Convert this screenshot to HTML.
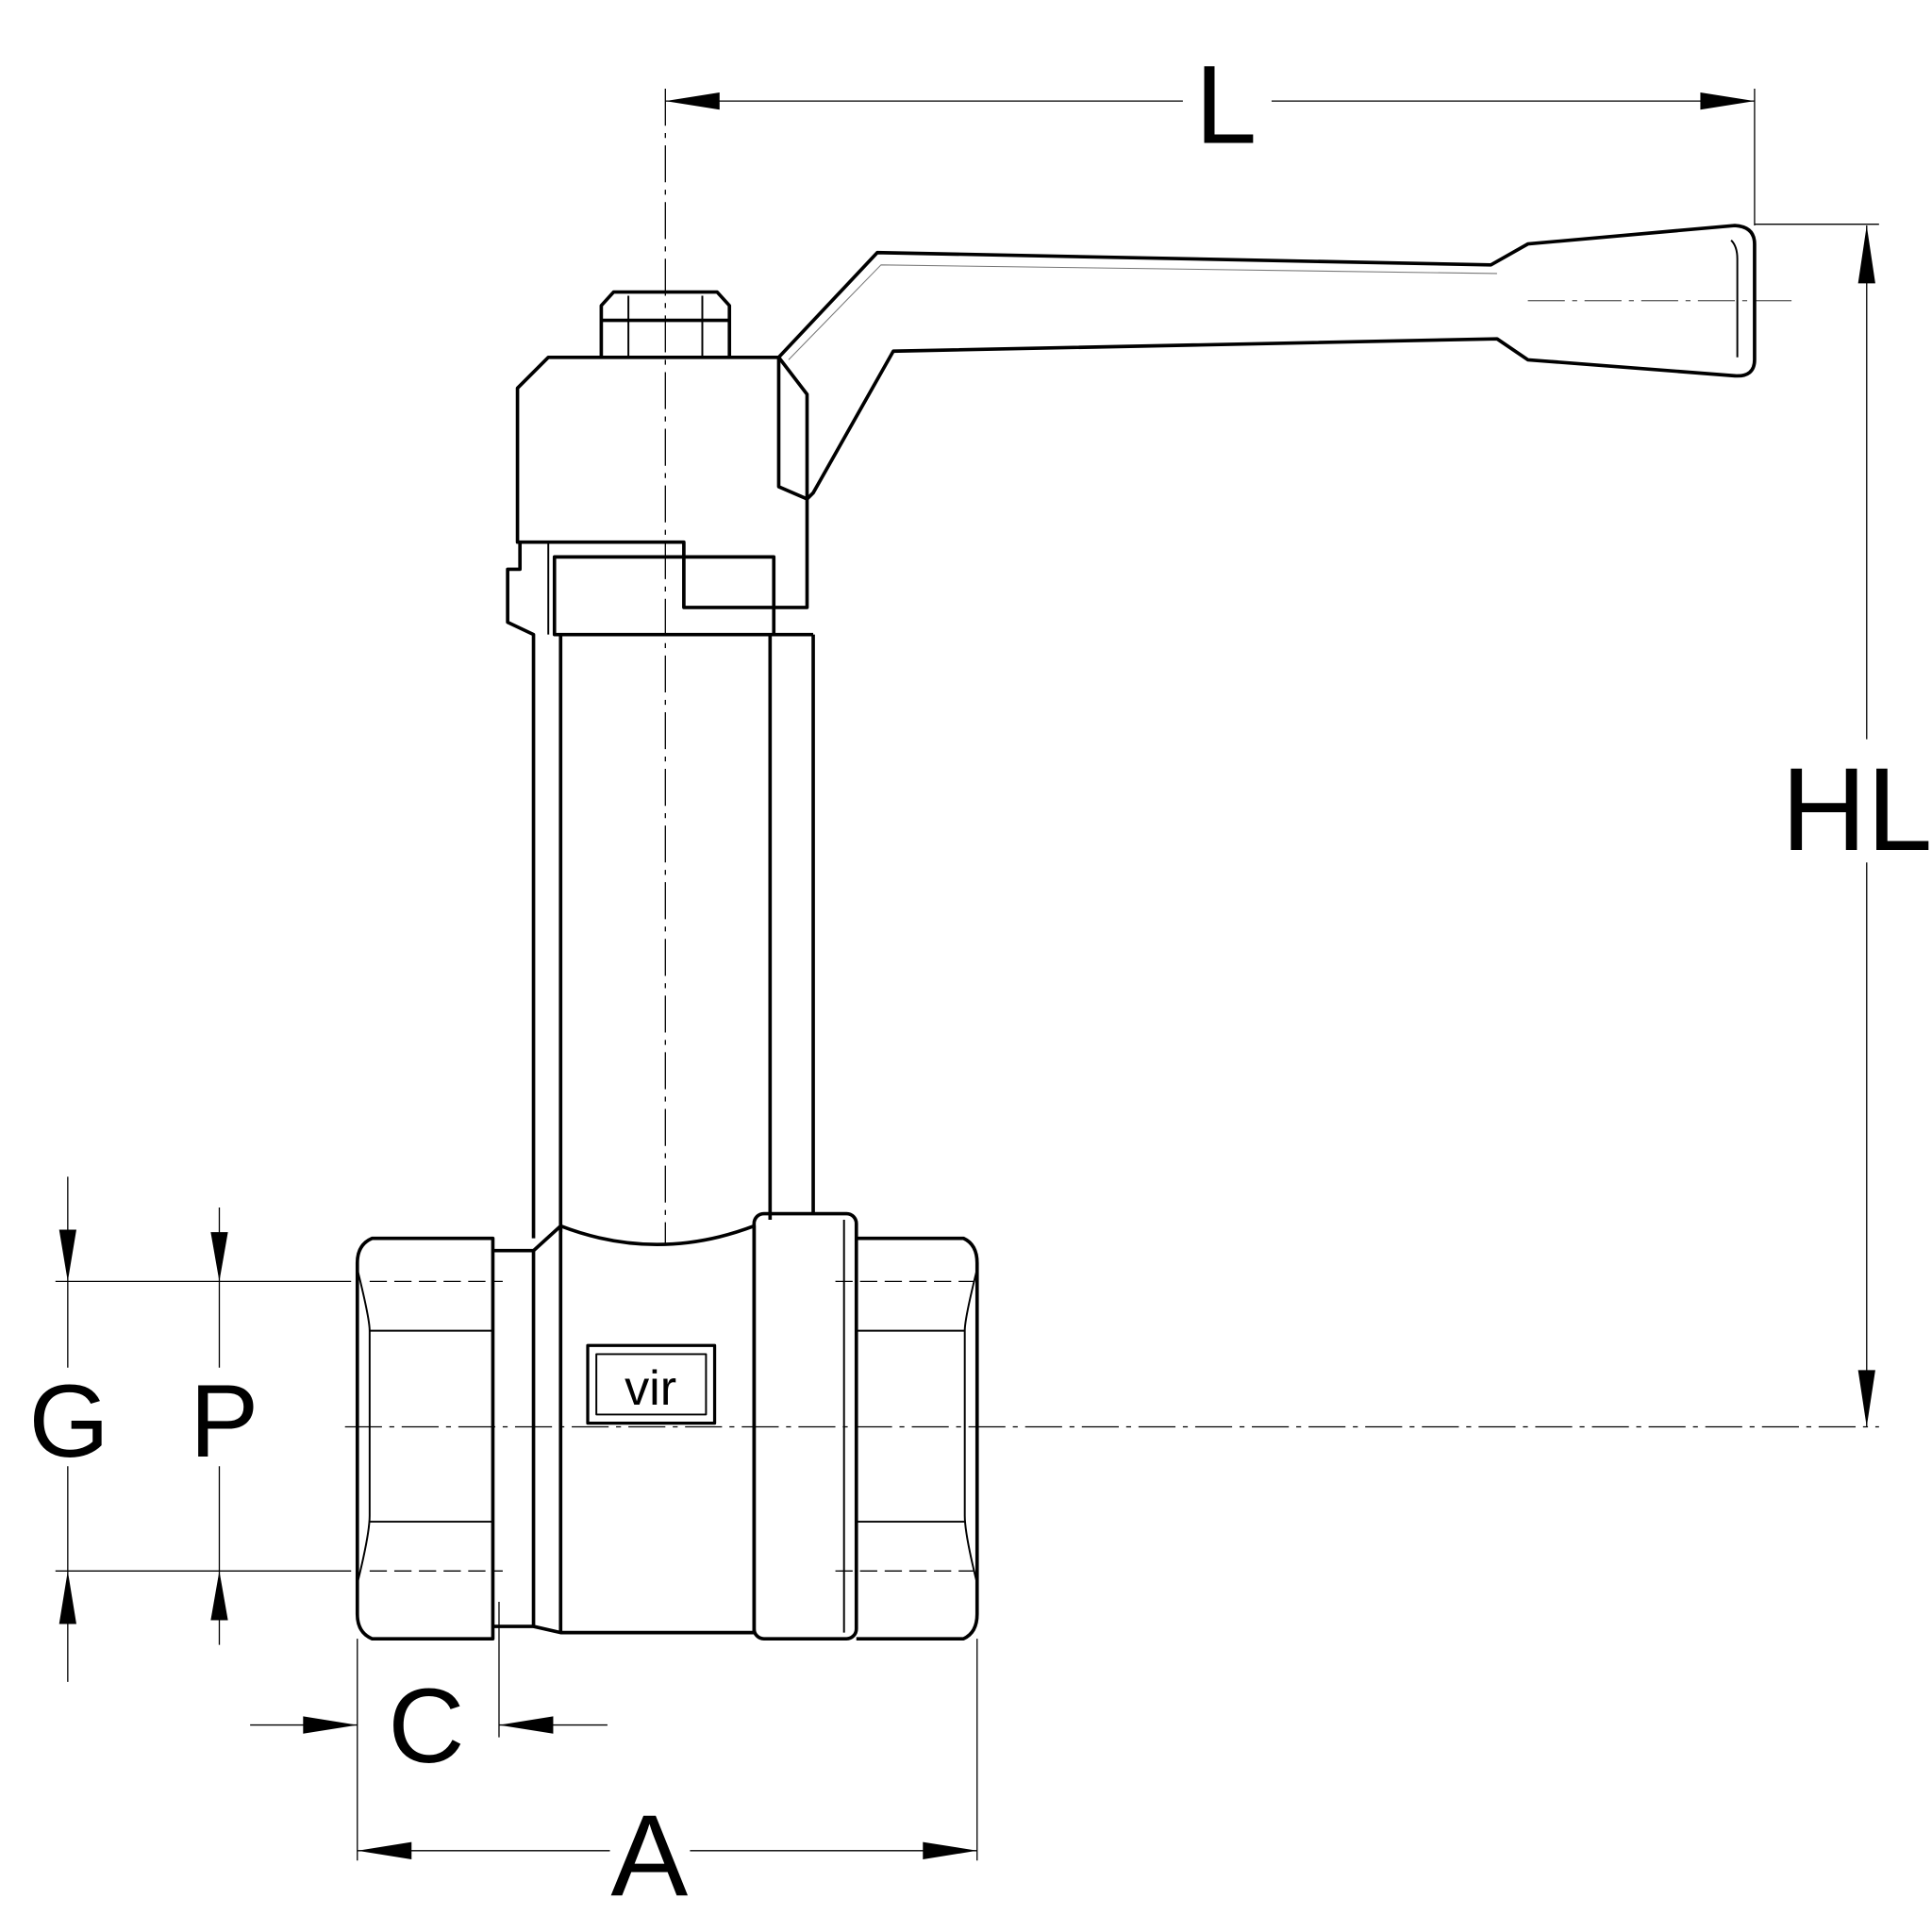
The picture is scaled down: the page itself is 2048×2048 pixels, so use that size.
<!DOCTYPE html>
<html><head><style>html,body{margin:0;padding:0;background:#fff}svg{display:block}</style></head>
<body>
<svg width="2048" height="2048" viewBox="0 0 1568 1568" xmlns="http://www.w3.org/2000/svg" font-family="Liberation Sans, sans-serif">
<g fill="none" stroke="#000" stroke-width="1">
 <line x1="540" y1="82" x2="960" y2="82"/><line x1="1032" y1="82" x2="1424" y2="82"/>
 <line x1="1424" y1="72" x2="1424" y2="183"/>
 <line x1="540" y1="72" x2="540" y2="1010" stroke-dasharray="30,6,4,6"/>
 <line x1="1515" y1="183" x2="1515" y2="600"/><line x1="1515" y1="700" x2="1515" y2="1158"/>
 <line x1="1424" y1="182" x2="1525" y2="182"/>
 <line x1="280" y1="1158" x2="1525" y2="1158" stroke-dasharray="30,6,4,6"/>
 <line x1="1240" y1="244" x2="1455" y2="244" stroke-dasharray="30,6,4,6" stroke="#666"/>
 <line x1="55" y1="955" x2="55" y2="1110"/><line x1="55" y1="1190" x2="55" y2="1365"/>
 <line x1="178" y1="980" x2="178" y2="1110"/><line x1="178" y1="1190" x2="178" y2="1335"/>
 <line x1="45" y1="1040" x2="285" y2="1040"/><line x1="45" y1="1275" x2="285" y2="1275"/>
 <line x1="203" y1="1400" x2="290" y2="1400"/><line x1="405" y1="1400" x2="493" y2="1400"/>
 <line x1="290" y1="1330" x2="290" y2="1510"/><line x1="405" y1="1300" x2="405" y2="1410"/>
 <line x1="793" y1="1330" x2="793" y2="1510"/>
 <line x1="290" y1="1502" x2="495" y2="1502"/><line x1="560" y1="1502" x2="793" y2="1502"/>
</g>
<g fill="#000">
 <polygon points="540,82 584,75 584,89"/><polygon points="1424,82 1380,75 1380,89"/>
 <polygon points="1515,183 1508,230 1522,230"/><polygon points="1515,1158 1508,1112 1522,1112"/>
 <polygon points="55,1040 48,998 62,998"/><polygon points="55,1275 48,1318 62,1318"/>
 <polygon points="178,1040 171,1000 185,1000"/><polygon points="178,1275 171,1315 185,1315"/>
 <polygon points="290,1400 246,1393 246,1407"/><polygon points="405,1400 449,1393 449,1407"/>
 <polygon points="290,1502 334,1495 334,1509"/><polygon points="793,1502 749,1495 749,1509"/>
</g>
<g text-anchor="middle">
 <text x="995" y="116" font-size="90">L</text>
 <text x="1507" y="690" font-size="96">HL</text>
 <text x="56" y="1182" font-size="84">G</text>
 <text x="182" y="1182" font-size="84">P</text>
 <text x="346" y="1430" font-size="86">C</text>
 <text x="527" y="1538" font-size="94">A</text>
</g>
<g fill="none" stroke="#000" stroke-width="2.8" stroke-linejoin="round">
 <path d="M632,290 L712,205 L1210,215 L1240,198 L1408,183 Q1424,184 1424,198 L1424,292 Q1424,306 1408,305 L1240,292 L1215,275 L725,285 L660,400 L655,405"/>
 <path d="M1405,195 Q1410,200 1410,210 L1410,290" stroke-width="1.5"/>
 <path d="M640,292 L715,215 L1215,222" stroke-width="0.8" stroke="#777"/>
 <path d="M420,315 L445,290 L632,290 L655,320 L655,493 L555,493 L555,440 L420,440 Z"/>
 <path d="M632,290 L632,395 L655,405"/>
 <path d="M488,290 L488,248 L498,237 L582,237 L592,248 L592,290"/>
 <line x1="488" y1="260" x2="592" y2="260"/><line x1="510" y1="240" x2="510" y2="290" stroke-width="1.5"/><line x1="570" y1="240" x2="570" y2="290" stroke-width="1.5"/>
 <rect x="450" y="452" width="178" height="63"/>
 <path d="M422,440 L422,462 L412,462 L412,505 L433,515 L433,1005"/>
 <line x1="455" y1="515" x2="455" y2="1000"/>
 <line x1="625" y1="515" x2="625" y2="990"/><line x1="660" y1="515" x2="660" y2="985"/>
 <line x1="628" y1="515" x2="660" y2="515"/>
 <line x1="445" y1="440" x2="445" y2="515" stroke-width="1.5"/>
 <path d="M302,1005 L400,1005 L400,1330 L302,1330 Q290,1325 290,1310 L290,1025 Q290,1010 302,1005 Z"/>
 <path d="M290,1030 Q300,1070 300,1080 L300,1230 Q300,1245 290,1285" stroke-width="1.5"/>
 <line x1="300" y1="1080" x2="400" y2="1080" stroke-width="1.5"/><line x1="300" y1="1235" x2="400" y2="1235" stroke-width="1.5"/>
 <line x1="300" y1="1040" x2="408" y2="1040" stroke-width="1" stroke-dasharray="14,6"/>
 <line x1="300" y1="1275" x2="408" y2="1275" stroke-width="1" stroke-dasharray="14,6"/>
 <path d="M400,1015 L433,1015 L433,1320 L400,1320"/>
 <path d="M433,1015 L455,995 Q533,1025 612,995 L612,1325 L455,1325 L433,1320"/>
 <line x1="455" y1="995" x2="455" y2="1325"/>
 <rect x="612" y="985" width="83" height="345" rx="8"/>
 <line x1="685" y1="990" x2="685" y2="1325" stroke-width="1.5"/>
 <path d="M695,1005 L782,1005 Q793,1010 793,1025 L793,1310 Q793,1325 782,1330 L695,1330"/>
 <path d="M793,1030 Q783,1070 783,1080 L783,1230 Q783,1245 793,1285" stroke-width="1.5"/>
 <line x1="695" y1="1080" x2="783" y2="1080" stroke-width="1.5"/><line x1="695" y1="1235" x2="783" y2="1235" stroke-width="1.5"/>
 <line x1="678" y1="1040" x2="790" y2="1040" stroke-width="1" stroke-dasharray="14,6"/>
 <line x1="678" y1="1275" x2="790" y2="1275" stroke-width="1" stroke-dasharray="14,6"/>
 <rect x="477" y="1092" width="103" height="63" stroke-width="2.5"/>
 <rect x="484" y="1099" width="89" height="49" stroke-width="1.5"/>
</g>
<text x="528" y="1140" font-size="40" text-anchor="middle">vir</text>
</svg>
</body></html>
